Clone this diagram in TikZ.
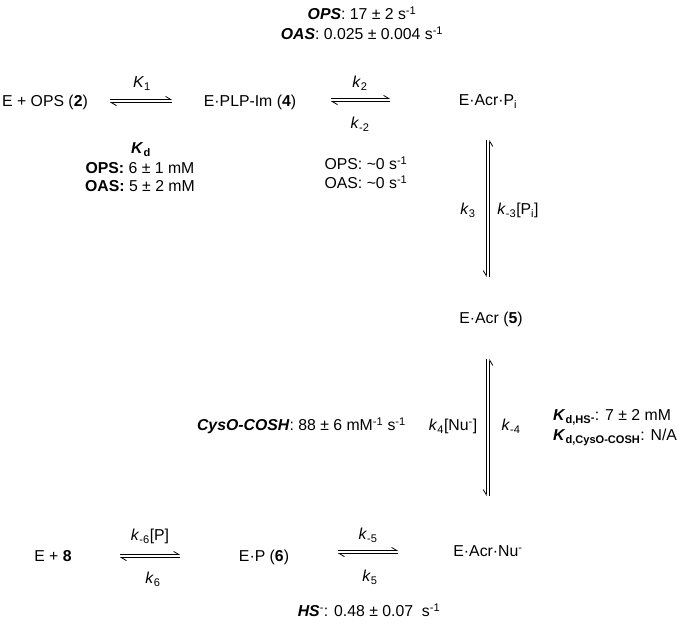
\documentclass[tikz,border=0pt]{standalone}
\usepackage{fontspec}
\setmainfont{Liberation Sans}
\usetikzlibrary{arrows.meta}
\newcommand\bi[1]{\textbf{\textit{#1}}}
\newcommand\sps[1]{\textsuperscript{#1}}
\newcommand\sbs[1]{\textsubscript{#1}}
\begin{document}
\begin{tikzpicture}[x=1pt,y=-1pt,
  lbl/.style={inner sep=0pt,font=\fontsize{15.8}{18}\selectfont,text height=11pt,text depth=0pt},
  hline/.style={line width=0.8pt,-{Straight Barb[left,length=5pt,width=6pt]}},
  vline/.style={line width=0.8pt,-{Straight Barb[right,length=5pt,width=6pt]}}]
\useasboundingbox (0,0) rectangle (679,625);
% rate labels on top
\node[lbl] (topops) at (362,14) {\bi{OPS}: 17 ± 2 s\sps{-1}};
\node[lbl] (topoas) at (362,34) {\bi{OAS}: 0.025 ± 0.004 s\sps{-1}};
% row 1
\node[lbl] (eops) at (45,101) {E + OPS (\textbf{2})};
\node[lbl] (eplp) at (250,101) {E·PLP-Im (\textbf{4})};
\node[lbl] (eacrpi) at (488,100) {E·Acr·P\sbs{i}};
\coordinate (a1l) at (110,101); \coordinate (a1r) at (172,101);
\coordinate (a2l) at (331,100); \coordinate (a2r) at (390,100);
\draw[hline] ([yshift=1.6pt]a1l) -- ([yshift=1.6pt]a1r);
\draw[hline] ([yshift=-1.6pt]a1r) -- ([yshift=-1.6pt]a1l);
\draw[hline] ([yshift=1.6pt]a2l) -- ([yshift=1.6pt]a2r);
\draw[hline] ([yshift=-1.6pt]a2r) -- ([yshift=-1.6pt]a2l);
\node[lbl] (K1) at (142,82) {\textit{K}\sbs{1}};
\node[lbl] (k2) at (360,82) {\textit{k}\sbs{2}};
\node[lbl] (km2) at (360,123) {\textit{k}\sbs{-2}};
% Kd block
\node[lbl] (kd) at (141,148) {\bi{K}\textbf{\sbs{d}}};
\node[lbl] (kdops) at (140,168) {\textbf{OPS:} 6 ± 1 mM};
\node[lbl] (kdoas) at (140,186) {\textbf{OAS:} 5 ± 2 mM};
\node[lbl] (zops) at (366,164) {OPS: \textasciitilde0 s\sps{-1}};
\node[lbl] (zoas) at (366,183) {OAS: \textasciitilde0 s\sps{-1}};
% vertical 1
\node[lbl] (eacr) at (491,318) {E·Acr (\textbf{5})};
\coordinate (v1t) at (488,140); \coordinate (v1b) at (488,277);
\draw[vline] ([xshift=-1.8pt]v1t) -- ([xshift=-1.8pt]v1b);
\draw[vline] ([xshift=1.8pt]v1b) -- ([xshift=1.8pt]v1t);
\node[lbl] (k3) at (468,209) {\textit{k}\sbs{3}};
\node[lbl] (km3) at (518,209) {\textit{k}\sbs{-3}[P\sbs{i}]};
% vertical 2
\coordinate (v2t) at (488,359); \coordinate (v2b) at (488,496);
\draw[vline] ([xshift=-1.8pt]v2t) -- ([xshift=-1.8pt]v2b);
\draw[vline] ([xshift=1.8pt]v2b) -- ([xshift=1.8pt]v2t);
\node[lbl] (k4) at (453,425) {\textit{k}\sbs{4}[Nu\sps{-}]};
\node[lbl] (km4) at (511,425) {\textit{k}\sbs{-4}};
\node[lbl,anchor=east] (cyso) at (406,425) {\bi{CysO-COSH}: 88 ± 6 mM\sps{-1} s\sps{-1}};
\node[lbl,anchor=west] (kdhs) at (553,415) {\bi{K}\textbf{\sbs{d,HS\raisebox{0.35ex}{-}}}: 7 ± 2 mM};
\node[lbl,anchor=west] (kdcys) at (553,435) {\bi{K}\textbf{\sbs{d,CysO-COSH}}: N/A};
% bottom row
\node[lbl] (e8) at (53,556) {E + \textbf{8}};
\node[lbl] (ep) at (264,556) {E·P (\textbf{6})};
\node[lbl] (eacrnu) at (488,551) {E·Acr·Nu\sps{-}};
\coordinate (a6l) at (120,556); \coordinate (a6r) at (180,556);
\coordinate (a5l) at (338,552); \coordinate (a5r) at (398,552);
\draw[hline] ([yshift=1.6pt]a6l) -- ([yshift=1.6pt]a6r);
\draw[hline] ([yshift=-1.6pt]a6r) -- ([yshift=-1.6pt]a6l);
\draw[hline] ([yshift=1.6pt]a5l) -- ([yshift=1.6pt]a5r);
\draw[hline] ([yshift=-1.6pt]a5r) -- ([yshift=-1.6pt]a5l);
\node[lbl] (km6) at (150,535) {\textit{k}\sbs{-6}[P]};
\node[lbl] (k6) at (153,578) {\textit{k}\sbs{6}};
\node[lbl] (km5) at (368,534) {\textit{k}\sbs{-5}};
\node[lbl] (k5) at (370,576) {\textit{k}\sbs{5}};
\node[lbl] (hs) at (369,611) {\bi{HS}\sps{-}: 0.48 ± 0.07 \ s\sps{-1}};
\end{tikzpicture}
\end{document}
